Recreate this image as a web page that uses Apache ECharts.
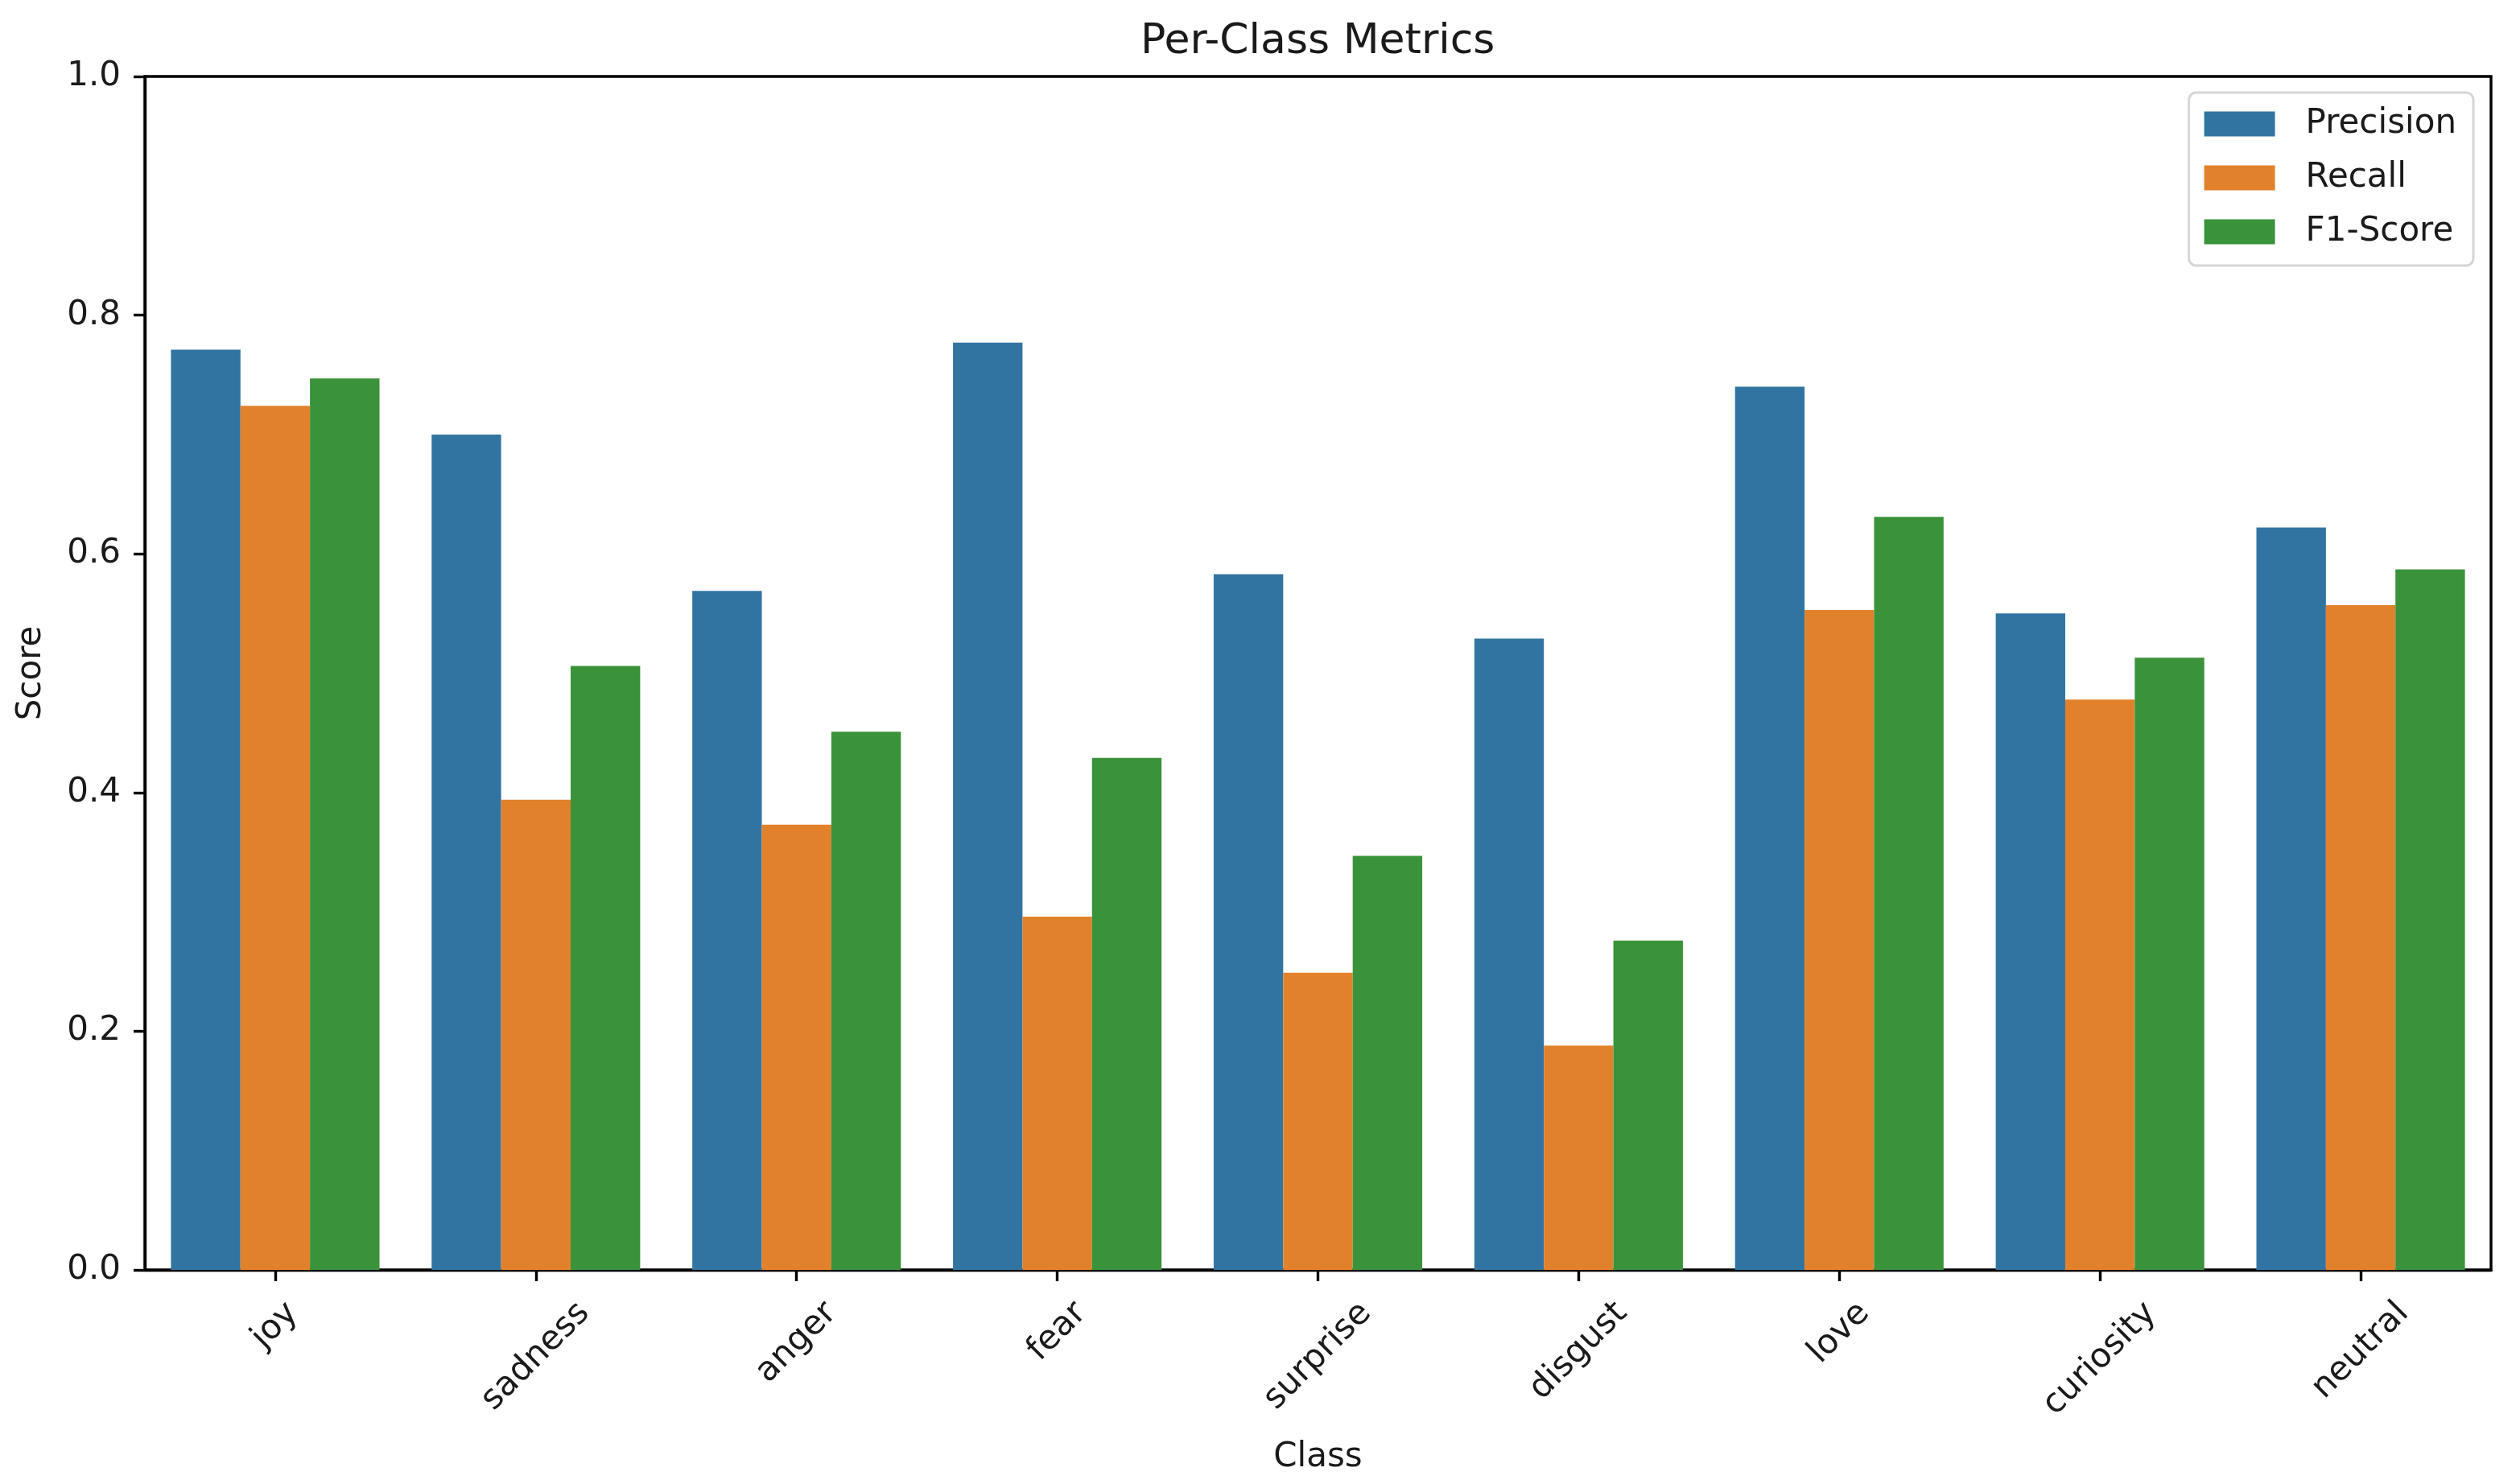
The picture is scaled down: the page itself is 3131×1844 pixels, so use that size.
<!DOCTYPE html>
<html>
<head>
<meta charset="utf-8">
<script src="https://cdn.jsdelivr.net/npm/echarts@6/dist/echarts.min.js"></script>
<style>
html,body{margin:0;padding:0;background:#fff;}
#chart{width:3131px;height:1844px;}
</style>
</head>
<body>
<div id="chart"></div>
<script>
const categories = ['joy','sadness','anger','fear','surprise','disgust','love','curiosity','neutral'];
const precision = [0.771,0.700,0.569,0.777,0.583,0.529,0.740,0.550,0.622];
const recall    = [0.724,0.394,0.373,0.296,0.249,0.188,0.553,0.478,0.557];
const f1score   = [0.747,0.506,0.451,0.429,0.347,0.276,0.631,0.513,0.587];
const seriesNames = ['Precision','Recall','F1-Score'];
const yTicks = [0.0,0.2,0.4,0.6,0.8,1.0];
const titleText = 'Per-Class Metrics';

const FONT = '"DejaVu Sans", sans-serif';
const FS = 42;
const TITLE_FS = 52;
const TXT = '#1a1a1a';
const colors = ['#3274a1','#e1812c','#3a923a'];
const GRID = {left: 180, right: 36, top: 95, bottom: 266};
const W = 3131;

const ctx = document.createElement('canvas').getContext('2d');
// title centred over the plot area
ctx.font = TITLE_FS + 'px "DejaVu Sans"';
const titleW = ctx.measureText(titleText).width;
const plotCenter = GRID.left + (W - GRID.left - GRID.right) / 2;

// per-label padding so the rotated label's bounding box is centred under its tick
ctx.font = FS + 'px "DejaVu Sans"';
const rich = {};
categories.forEach((c, i) => {
  const w = ctx.measureText(c).width;
  const p = (w + FS * 1.17) / 2;
  rich['c' + i] = {fontSize: FS, fontFamily: FONT, color: TXT, lineHeight: FS, padding: [p, p, 0, 0]};
});

const chart = echarts.init(document.getElementById('chart'), null, {renderer: 'canvas'});
const data = [precision, recall, f1score];
chart.setOption({
  backgroundColor: '#ffffff',
  animation: false,
  color: colors,
  title: {
    text: titleText,
    left: Math.round(plotCenter - titleW / 2) - 5,
    top: 21,
    textStyle: {fontFamily: FONT, fontSize: TITLE_FS, fontWeight: 'normal', color: TXT}
  },
  legend: {
    orient: 'vertical',
    right: 58,
    top: 115,
    padding: [17, 21, 20, 19],
    itemWidth: 88,
    itemHeight: 31,
    itemGap: 23,
    icon: 'rect',
    backgroundColor: '#ffffff',
    borderColor: '#d6d6d6',
    borderWidth: 3,
    borderRadius: 9,
    align: 'left',
    textStyle: {fontFamily: FONT, fontSize: FS, color: TXT, lineHeight: 44, padding: [0, 0, 0, 33]},
    data: seriesNames
  },
  grid: {
    left: GRID.left, right: GRID.right, top: GRID.top, bottom: GRID.bottom,
    show: true, borderColor: '#000', borderWidth: 3.4, backgroundColor: 'transparent'
  },
  xAxis: {
    type: 'category',
    data: categories,
    name: 'Class',
    nameLocation: 'middle',
    nameGap: 212,
    nameTextStyle: {fontFamily: FONT, fontSize: FS, color: TXT},
    axisLine: {show: true, lineStyle: {color: '#000', width: 3.4}},
    axisTick: {show: true, alignWithLabel: true, length: 14, lineStyle: {color: '#000', width: 3.4}},
    axisLabel: {
      interval: 0,
      rotate: 45,
      margin: 30,
      align: 'center',
      verticalAlign: 'middle',
      hideOverlap: false,
      fontFamily: FONT, fontSize: FS, color: TXT,
      rich: rich,
      formatter: (v, i) => '{c' + i + '|' + v + '}'
    },
    splitLine: {show: false}
  },
  yAxis: {
    type: 'value',
    min: 0, max: 1, interval: 0.2,
    name: 'Score',
    nameLocation: 'middle',
    nameRotate: 90,
    nameGap: 120,
    nameTextStyle: {fontFamily: FONT, fontSize: FS, color: TXT},
    axisLine: {show: true, lineStyle: {color: '#000', width: 3.4}},
    axisTick: {show: true, length: 14, lineStyle: {color: '#000', width: 3.4}},
    axisLabel: {
      margin: 30, fontFamily: FONT, fontSize: FS, color: TXT,
      formatter: v => {
        const t = yTicks.find(x => Math.abs(x - v) < 1e-9);
        return (t !== undefined ? t : v).toFixed(1);
      }
    },
    splitLine: {show: false}
  },
  series: seriesNames.map((n, k) => ({
    name: n,
    type: 'bar',
    data: data[k],
    barGap: '0%',
    barCategoryGap: '20%',
    itemStyle: {color: colors[k]}
  }))
});
</script>
</body>
</html>
